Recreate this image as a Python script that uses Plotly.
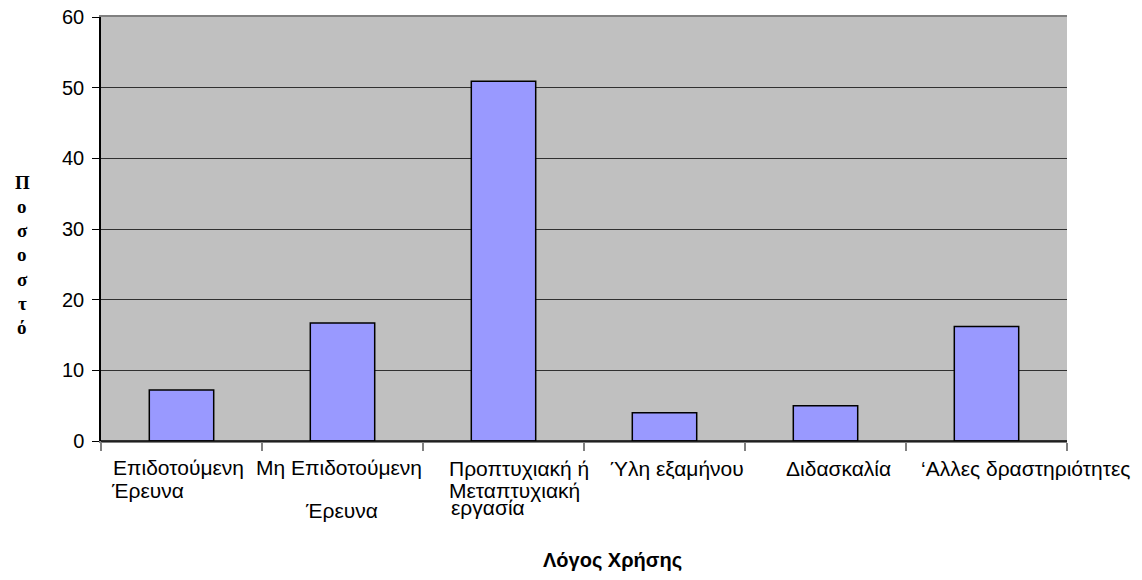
import plotly.graph_objects as go

categories = ["Επιδοτούμενη Έρευνα", "Μη Επιδοτούμενη Έρευνα", "Προπτυχιακή ή Μεταπτυχιακή εργασία",
              "Ύλη εξαμήνου", "Διδασκαλία", "‘Αλλες δραστηριότητες"]
values = [7.2, 16.7, 50.9, 4.0, 5.0, 16.2]
label_lines = [["Επιδοτούμενη", "Έρευνα"],
               ["Μη Επιδοτούμενη", "Έρευνα"],
               ["Προπτυχιακή ή", "Μεταπτυχιακή", "εργασία"],
               ["Ύλη εξαμήνου"],
               ["Διδασκαλία"],
               ["‘Αλλες δραστηριότητες"]]
y_ticks = [0, 10, 20, 30, 40, 50, 60]
x_title = "Λόγος Χρήσης"
y_title_letters = ["Π", "ο", "σ", "ο", "σ", "τ", "ό"]

# styling: per-line offsets (px) of tick labels relative to the category centre / axis
line_dx = [[-71, -73], [-89, -40], [-57, -57, -55], [-57], [-42], [-68]]
line_dy = [[-26, -49], [-26, -69], [-27, -49, -66], [-27], [-27], [-27]]

FONT = "Liberation Sans, Arial, sans-serif"

fig = go.Figure()
fig.add_trace(go.Bar(
    x=categories, y=values,
    marker=dict(color="#9999FF", line=dict(color="#000000", width=1.5)),
    width=0.4,
))

annotations = []
for cat, lines, dxs, dys in zip(categories, label_lines, line_dx, line_dy):
    for txt, dx, dy in zip(lines, dxs, dys):
        annotations.append(dict(
            x=cat, xref="x", y=0, yref="paper", text=txt, showarrow=False,
            xanchor="left", yanchor="middle", xshift=dx, yshift=dy,
            font=dict(family=FONT, size=21, color="#000000"),
        ))

annotations.append(dict(
    x=0.5, xref="paper", y=0, yref="paper", text="<b>" + x_title + "</b>", showarrow=False,
    xanchor="center", yanchor="middle", xshift=28, yshift=-119,
    font=dict(family=FONT, size=20, color="#000000"),
))
for i, letter in enumerate(y_title_letters):
    annotations.append(dict(
        x=0, xref="paper", y=0, yref="paper", text="<b>" + letter + "</b>",
        showarrow=False, xanchor="center", yanchor="middle", xshift=-79, yshift=259 - 24.3 * i,
        font=dict(family="Liberation Serif, Times New Roman, serif", size=19, color="#000000"),
    ))

fig.update_layout(
    width=1142, height=580,
    margin=dict(l=101, r=75, t=17, b=139, autoexpand=False),
    paper_bgcolor="#FFFFFF", plot_bgcolor="#C0C0C0",
    showlegend=False,
    bargap=0.6,
    hovermode=False,
    annotations=annotations,
    xaxis=dict(
        type="category", range=[-0.5, len(categories) - 0.5], autorange=False,
        showticklabels=False, tickson="boundaries", automargin=False,
        ticks="outside", ticklen=8, tickcolor="#808080", tickwidth=1.5,
        showgrid=False, showline=True, linecolor="#808080", linewidth=1.5, mirror=True,
        zeroline=False,
    ),
    yaxis=dict(
        range=[0, 60], autorange=False, automargin=False,
        tickvals=y_ticks, ticks="outside", ticklen=7, tickcolor="#000000",
        tickfont=dict(family=FONT, size=20, color="#000000"),
        ticklabeloverflow="allow",
        showgrid=True, gridcolor="#303030", gridwidth=1,
        showline=True, linecolor="#000000", linewidth=1.5,
        zeroline=False, ticklabelstandoff=4,
    ),
    shapes=[
        dict(type="line", xref="paper", yref="paper", x0=0, x1=1, y0=0, y1=0,
             line=dict(color="#000000", width=1.5)),
    ],
)

fig.write_html("out.html", config={"displayModeBar": False},
               post_script="document.body.style.margin='0';document.body.style.overflow='hidden';")
